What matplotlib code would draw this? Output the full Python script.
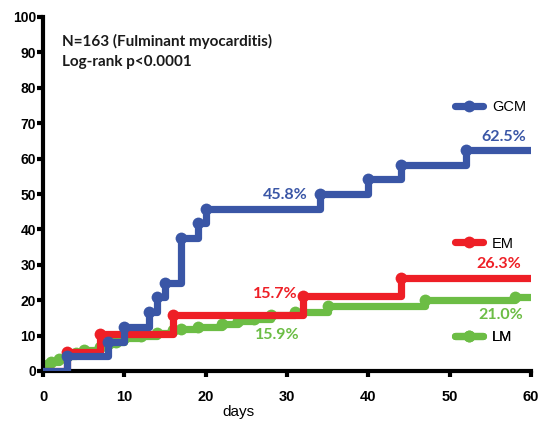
import matplotlib
matplotlib.use("Agg")
import matplotlib.pyplot as plt
from matplotlib.lines import Line2D

# cumulative incidence (%), step changes by day
gcm_days = [0, 3, 8, 10, 13, 14, 15, 17, 19, 20, 34, 40, 44, 52, 60]
gcm_vals = [0, 4.2, 8.3, 12.5, 16.7, 20.8, 25.0, 37.5, 41.7, 45.8, 50.0, 54.2, 58.3, 62.5, 62.5]

em_days = [0, 3, 7, 16, 32, 44, 60]
em_vals = [0, 5.3, 10.5, 15.7, 21.1, 26.3, 26.3]

lm_days = [0, 0.5, 1, 2, 3, 4, 5, 7, 8, 9, 10, 12, 14, 16, 17, 19, 22, 24, 26, 28, 31, 35, 47, 58, 60]
lm_vals = [0, 1.7, 2.5, 3.3, 4.2, 5.0, 5.8, 6.7, 7.5, 8.3, 9.2, 10.0, 10.8, 11.5, 12.0, 12.5,
           13.3, 14.0, 14.8, 15.9, 16.8, 18.5, 20.1, 21.0, 21.0]

x_ticks = [0, 10, 20, 30, 40, 50, 60]
y_ticks = [0, 10, 20, 30, 40, 50, 60, 70, 80, 90, 100]

BLUE = '#3A56A6'
RED = '#EE1F26'
GREEN = '#6CBD45'

series = [
    ('LM', lm_days, lm_vals, GREEN, 1),
    ('EM', em_days, em_vals, RED, 2),
    ('GCM', gcm_days, gcm_vals, BLUE, 3),
]

fig = plt.figure(figsize=(5.44, 4.21), dpi=100)
ax = fig.add_axes([43 / 544, 50 / 421, 488 / 544, 354 / 421])

handles = {}
for name, days, vals, color, z in series:
    ax.step(days, vals, where='post', color=color, linewidth=5.2,
            solid_capstyle='round', solid_joinstyle='round', zorder=z)
    ax.plot(days[1:-1], vals[1:-1], 'o', color=color, markersize=8.5,
            markeredgewidth=0, zorder=z)
    handles[name] = Line2D([], [], color=color, linewidth=5.2, marker='o',
                           markersize=8.5, markeredgewidth=0,
                           solid_capstyle='round')

ax.set_xlim(0, 60)
ax.set_ylim(0, 100)
ax.set_xticks(x_ticks)
ax.set_yticks(y_ticks)

tick_font = dict(family=['Liberation Sans Narrow', 'Liberation Sans'], weight='bold', size=10.5)
ax.set_xticklabels([str(t) for t in x_ticks], fontdict=tick_font)
ax.set_yticklabels([str(t) for t in y_ticks], fontdict=dict(family='Liberation Sans', weight='bold', size=10))

ax.spines['top'].set_visible(False)
ax.spines['right'].set_visible(False)
for s in ['left', 'bottom']:
    ax.spines[s].set_linewidth(3)
    ax.spines[s].set_capstyle('projecting')
ax.tick_params(axis='both', direction='out', length=4, width=3, color='black')
ax.tick_params(axis='x', pad=10)
ax.tick_params(axis='y', pad=1)

ax.set_xlabel('days', family=['Liberation Sans Narrow', 'Liberation Sans'], fontsize=11)
ax.xaxis.set_label_coords(0.40, -0.095)

# header
head = dict(family='Lato', weight='bold', fontsize=11, color='#1a1a1a')
ax.text(0.038, 0.931, 'N=163 (Fulminant myocarditis)', transform=ax.transAxes, va='center', ha='left', **head)
ax.text(0.038, 0.874, 'Log-rank p<0.0001', transform=ax.transAxes, va='center', ha='left', **head)

# percentage annotations
lab = dict(family='Lato', weight='bold', fontsize=11.5)
ax.text(29.8, 49.6, '45.8%', color=BLUE, ha='center', va='center', **lab)
ax.text(59.4, 66.2, '62.5%', color=BLUE, ha='right', va='center', **lab)
ax.text(28.6, 21.7, '15.7%', color=RED, ha='center', va='center', **lab)
ax.text(58.8, 30.2, '26.3%', color=RED, ha='right', va='center', **lab)
ax.text(28.8, 10.2, '15.9%', color=GREEN, ha='center', va='center', **lab)
ax.text(59.0, 15.8, '21.0%', color=GREEN, ha='right', va='center', **lab)

# one legend entry next to each curve
leg_font = dict(family='Liberation Sans', size=10.5)
for name, ypos in [('GCM', 0.745), ('EM', 0.36), ('LM', 0.097)]:
    leg = ax.legend([handles[name]], [name], loc='center left',
                    bbox_to_anchor=(0.83, ypos), frameon=False,
                    handlelength=1.9, handletextpad=0.6, borderpad=0,
                    prop=leg_font)
    ax.add_artist(leg)

fig.savefig('out.png', dpi=100)
